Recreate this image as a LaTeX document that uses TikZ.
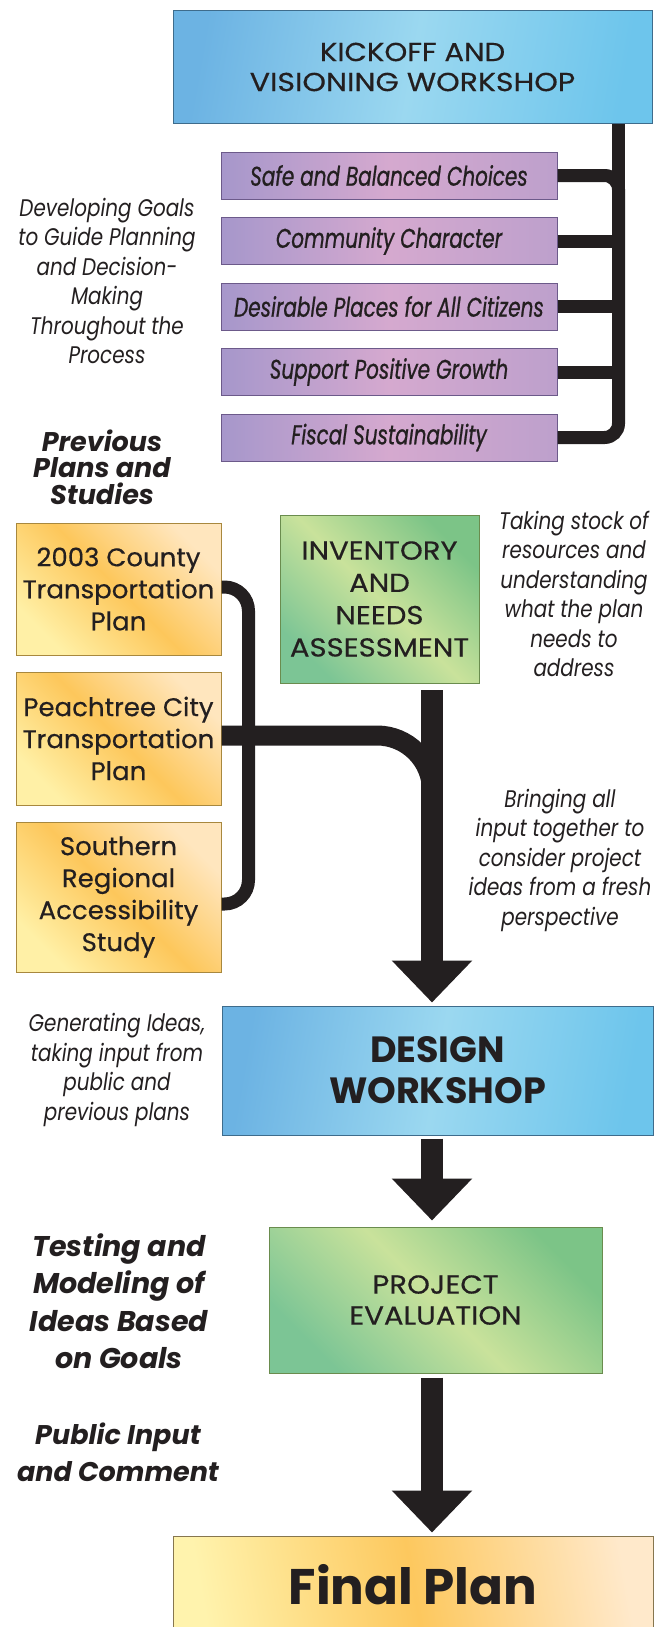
\documentclass[tikz,border=0pt]{standalone}
\usepackage{graphicx}
\usepackage{fontspec}
\setmainfont{Poppins}
\newfontfamily\capsfont[FakeStretch=1.12,FakeBold=0.4]{Poppins}
\newfontfamily\mixfont[FakeStretch=1.02,FakeBold=0.4]{Poppins}
\newfontfamily\noteit[FakeStretch=0.83]{Poppins}
\newfontfamily\goalfont[FakeStretch=0.74,FakeBold=0.8]{Poppins}
\usetikzlibrary{arrows.meta,calc}
\definecolor{ink}{HTML}{231F20}
\definecolor{blueL}{HTML}{6CB3E3}
\definecolor{blueM}{HTML}{9BD8F0}
\definecolor{blueR}{HTML}{6DC5EC}
\definecolor{blueB}{HTML}{3E6C8C}
\definecolor{purL}{HTML}{A697CB}
\definecolor{purM}{HTML}{D5A9CF}
\definecolor{purR}{HTML}{BDA0CC}
\definecolor{purB}{HTML}{6C5A8A}
\definecolor{orA}{HTML}{FFF0A6}
\definecolor{orM}{HTML}{FDC75B}
\definecolor{orC}{HTML}{FFE6BE}
\definecolor{orB}{HTML}{A8883E}
\definecolor{grD}{HTML}{7CC595}
\definecolor{grM}{HTML}{C9E29B}
\definecolor{grE}{HTML}{7CC487}
\definecolor{grB}{HTML}{6A8C4E}
\definecolor{finL}{HTML}{FFF3AD}
\definecolor{finM}{HTML}{FDC85E}
\definecolor{finR}{HTML}{FFE9CB}
\definecolor{finB}{HTML}{86764F}
\begin{document}
\begin{tikzpicture}[x=1pt,y=-1pt,
  basebox/.style={draw, line width=1pt, inner sep=0pt, align=center, text=ink},
  bluebox/.style={basebox, draw=blueB, left color=blueL, right color=blueR, middle color=blueM, shading angle=80},
  goalbox/.style={basebox, draw=purB, left color=purL, right color=purR, middle color=purM, shading angle=90,
     minimum width=336pt, minimum height=47pt, font=\goalfont\itshape\fontsize{27}{30}\selectfont},
  orbox/.style={basebox, draw=orB, left color=orA, right color=orC, middle color=orM, shading angle=135,
     minimum width=205pt, font=\mixfont\fontsize{25.5}{32}\selectfont},
  grbox/.style={basebox, draw=grB, left color=grD, right color=grE, middle color=grM, shading angle=135},
  note/.style={align=center, inner sep=0pt, text=ink, font=\noteit\itshape\fontsize{24}{29.5}\selectfont},
  bnote/.style={align=center, inner sep=0pt, text=ink, font=\bfseries\itshape\fontsize{28.5}{37.5}\selectfont},
  conn/.style={draw=ink, line width=13pt, line cap=butt},
  band/.style={draw=ink, line width=20pt, line cap=butt},
  bigarrow/.style={draw=ink, line width=22pt, line cap=butt, -{Triangle[width=78pt,length=42pt]}}
]
\useasboundingbox (0,0) rectangle (668,1627);
\clip (0,0) rectangle (668,1627);

% boxes
\node[bluebox, minimum width=479pt, minimum height=113pt, font=\capsfont\fontsize{26}{30}\selectfont] (kick) at (412.5,67) {KICKOFF AND\\\scalebox{1.03}[1]{VISIONING WORKSHOP}};
\node[goalbox] (g1) at (389,175.5) {Safe and Balanced Choices};
\node[goalbox] (g2) at (389,241) {Community Character};
\node[goalbox] (g3) at (389,306.5) {Desirable Places for All Citizens};
\node[goalbox] (g4) at (389,372) {Support Positive Growth};
\node[goalbox] (g5) at (389,437.5) {Fiscal Sustainability};

\node[orbox, minimum height=132pt] (o1) at (118.5,589) {2003 County\\Transportation\\Plan};
\node[orbox, minimum height=133pt] (o2) at (118.5,738.5) {Peachtree City\\Transportation\\Plan};
\node[orbox, minimum height=150pt] (o3) at (118.5,897) {Southern\\Regional\\Accessibility\\Study};

\node[grbox, minimum width=199pt, minimum height=168pt, font=\capsfont\fontsize{26}{32.3}\selectfont] (inv) at (379.5,599) {INVENTORY\\AND\\NEEDS\\ASSESSMENT};

\node[bluebox, minimum width=431pt, minimum height=129pt, font=\bfseries\fontsize{36.5}{41}\selectfont] (des) at (437.5,1070.5) {DESIGN\\WORKSHOP};
\node[grbox, minimum width=333pt, minimum height=146pt, font=\capsfont\fontsize{26}{31}\selectfont] (pe) at (435.5,1300) {PROJECT\\EVALUATION};
\node[basebox, draw=finB, left color=finL, right color=finR, middle color=finM, shading angle=100,
  minimum width=480pt, minimum height=98pt, font=\bfseries\fontsize{50}{55}\selectfont] (fin) at (413,1585) {Final Plan};

% side texts
\node[note] (t1) at (107,281) {Developing Goals\\to Guide Planning\\and Decision-\\Making\\Throughout the\\Process};
\node[bnote, font=\bfseries\itshape\fontsize{27}{26.5}\selectfont] (t2) at (102,467) {Previous\\Plans and\\Studies};
\node[note] (t3) at (574,594) {Taking stock of\\resources and\\understanding\\what the plan\\needs to\\address};
\node[note] (t4) at (560,860) {Bringing all\\input together to\\consider project\\ideas from a fresh\\perspective};
\node[note] (t5) at (117,1070) {Generating Ideas,\\taking input from\\public and\\previous plans};
\node[bnote] (t6) at (119,1301) {Testing and\\Modeling of\\Ideas Based\\on Goals};
\node[bnote, font=\bfseries\itshape\fontsize{27}{37}\selectfont] (t7) at (118,1452) {Public Input\\and Comment};

% helper coordinates
\coordinate (tbx) at (618.5,0);
\coordinate (obx) at (248.5,0);
\coordinate (ax) at (432,0);
\coordinate (a1s) at (432,690);
\coordinate (o1b) at ($(o1.east)+(0,-2)$);
\coordinate (o2b) at ($(o2.east)+(0,-3)$);
\coordinate (o3b) at ($(o3.east)+(0,7)$);
\coordinate (bandend) at (432,900);

% goal bracket
\draw[conn] (kick.south -| tbx) -- (g3.east -| tbx);
\draw[conn, rounded corners=14pt] (g1.east) -- (g1.east -| tbx) -- (g5.east -| tbx) -- (g5.east);
\foreach \g in {g2,g3,g4} \draw[conn] (\g.east) -- (\g.east -| tbx);

% previous plans bracket
\draw[conn, rounded corners=24pt] (o1b) -- (o1b -| obx) -- (obx |- o3b) -- (o3b);
\draw[band, rounded corners=55pt] (o2b) -- (o2b -| ax) -- (bandend);

% main arrows
\draw[bigarrow, shorten >=3pt] (a1s) -- (a1s |- des.north);
\draw[bigarrow, shorten <=3pt, shorten >=6pt] (des.south -| ax) -- (pe.north -| ax);
\draw[bigarrow, shorten <=4pt, shorten >=3pt] (pe.south -| ax) -- (fin.north -| ax);
\end{tikzpicture}
\end{document}
